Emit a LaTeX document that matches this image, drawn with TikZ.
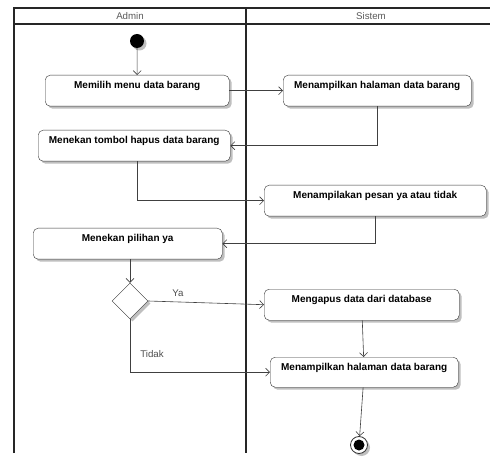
\documentclass[tikz,border=0pt]{standalone}
\usepackage{fontspec}
\setmainfont{Liberation Sans}
\usetikzlibrary{shapes.geometric,arrows.meta,shadows}
\begin{document}
\begin{tikzpicture}[x=1pt,y=-1pt]
  \tikzstyle{lane}=[draw=black!85,line width=1.4pt]
  \tikzstyle{head}=[text=black!65,font=\fontsize{9.7}{11}\selectfont]
  \tikzstyle{shade}=[drop shadow={shadow xshift=2.5pt,shadow yshift=-2.5pt,
                    fill=black!25,opacity=1}]
  \tikzstyle{act}=[draw=black!80,rounded corners=5pt,fill=white,inner sep=0pt,
                  text height=13.5pt,text depth=17.5pt,anchor=north west,shade,
                  font=\bfseries\fontsize{10}{12}\selectfont]
  \tikzstyle{flow}=[draw=black!75,line width=0.6pt,
                   -{Straight Barb[length=4pt,width=8pt]}]
  \tikzstyle{lbl}=[text=black!70,font=\fontsize{9.7}{11}\selectfont]
  \useasboundingbox (0,0) rectangle (490,457);

  \draw[lane] (14,453) -- (14,8) -- (490,8);
  \draw[lane] (14,24) -- (490,24);
  \draw[lane] (246,8) -- (246,453);
  \node[head] (admin) at (130,16) {Admin};
  \node[head] (sistem) at (371,16) {Sistem};

  \node[circle,fill=black,minimum size=14pt,inner sep=0pt,shade] (start) at (137,41) {};
  \node[act,minimum width=184pt] (n1) at (45,75) {Memilih menu data barang};
  \node[act,minimum width=188pt] (n2) at (283,75) {Menampilkan halaman data barang};
  \node[act,minimum width=192pt] (n3) at (38,130) {Menekan tombol hapus data barang};
  \node[act,minimum width=222pt] (n4) at (264,185) {Menampilakan pesan ya atau tidak};
  \node[act,minimum width=189pt] (n5) at (33,228) {Menekan pilihan ya};
  \node[diamond,draw=black!80,fill=white,minimum width=36pt,minimum height=36pt,
        inner sep=0pt,shade] (dia) at (130,301) {};
  \node[act,minimum width=195pt] (n6) at (264,289) {Mengapus data dari database};
  \node[act,minimum width=188pt,text depth=16.5pt] (n7) at (270,357) {Menampilkan halaman data barang};
  \node[circle,draw=black!80,line width=0.8pt,fill=white,minimum size=17pt,inner sep=0pt,shade,
        path picture={\fill[black] (path picture bounding box.center) circle (5.5pt);}]
        (stop) at (359,445) {};

  \node[lbl] (ya) at (178,293) {Ya};
  \node[lbl] (tidak) at (152,354) {Tidak};

  \draw[flow] (start) -- (n1.north);
  \draw[flow] (n1) -- (n2);
  \draw[flow] (n2.south) |- (n3.east);
  \draw[flow] ([xshift=3pt]n3.south) |- (n4.west);
  \draw[flow] (n4.south) |- (n5.east);
  \draw[flow] (n5.south -| dia.north) -- (dia.north);
  \draw[flow] (dia.east) -- (n6.west);
  \draw[flow] (dia.south) |- (n7.west);
  \draw[flow] (n6) -- (n7);
  \draw[flow] (n7) -- (stop);
\end{tikzpicture}
\end{document}
